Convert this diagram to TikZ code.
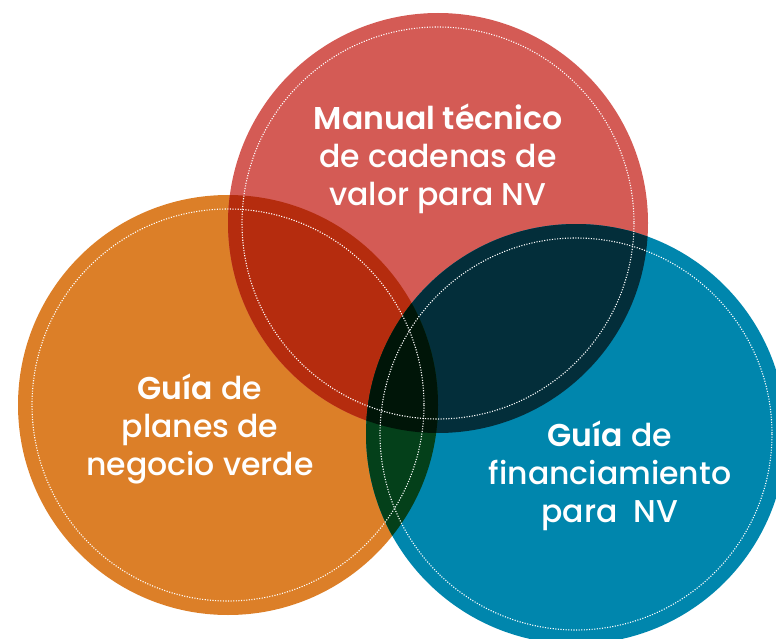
\documentclass[tikz,border=0pt]{standalone}
\usepackage{fontspec}
\setmainfont{Poppins}[UprightFont=* Medium, BoldFont=* SemiBold]
\definecolor{cred}{HTML}{D45B55}
\definecolor{corange}{HTML}{DC7F28}
\definecolor{cblue}{HTML}{0086AD}
\definecolor{credorange}{HTML}{B52C0E}
\definecolor{credblue}{HTML}{032E3A}
\definecolor{corangeblue}{HTML}{04401A}
\definecolor{call}{HTML}{001508}
\tikzset{
  dotring/.style={draw=white, line width=1.1pt, dash pattern=on 1.1pt off 1.5pt},
  label/.style={text=white, align=center, font=\fontsize{31.5}{38}\selectfont, inner sep=0pt},
}
\begin{document}
\begin{tikzpicture}[x=1pt,y=-1pt]
\useasboundingbox (0,0) rectangle (776,639);
\coordinate (R) at (438,223);
\coordinate (O) at (228,405);
\coordinate (B) at (576,434);
\def\rad{210}
\def\rin{196}
\begin{scope}
\clip (0,0) rectangle (776,639);
\fill[corange] (O) circle[radius=\rad];
\fill[cred] (R) circle[radius=\rad];
\fill[cblue] (B) circle[radius=\rad];
\begin{scope}
\clip (R) circle[radius=\rad];
\fill[credorange] (O) circle[radius=\rad];
\fill[credblue] (B) circle[radius=\rad];
\end{scope}
\begin{scope}
\clip (O) circle[radius=\rad];
\fill[corangeblue] (B) circle[radius=\rad];
\end{scope}
\begin{scope}
\clip (R) circle[radius=\rad];
\clip (O) circle[radius=\rad];
\fill[call] (B) circle[radius=\rad];
\end{scope}
\draw[dotring] (O) circle[radius=\rin];
\draw[dotring] (R) circle[radius=\rin];
\draw[dotring] (B) circle[radius=\rin];
\end{scope}
\node[label] (tred) at (438,159) {\bfseries Manual técnico\\de cadenas de\\valor para NV};
\node[label] (torange) at (200,429) {\textbf{Guía} de\\planes de\\negocio verde};
\node[label] (tblue) at (610,476) {\textbf{Guía} de\\financiamiento\\para~ NV};
\end{tikzpicture}
\end{document}
